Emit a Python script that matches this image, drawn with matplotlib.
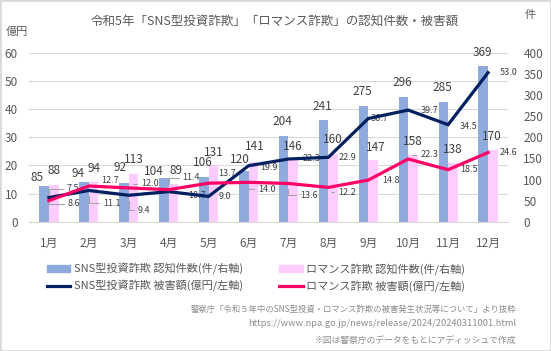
import numpy as np
import matplotlib
matplotlib.use('Agg')
from matplotlib import pyplot as plt
from matplotlib.patches import Patch, Rectangle
from matplotlib.lines import Line2D
from matplotlib.transforms import blended_transform_factory

plt.rcParams['font.family'] = ['Noto Sans CJK JP', 'DejaVu Sans']

months = ['1月', '2月', '3月', '4月', '5月', '6月', '7月', '8月', '9月', '10月', '11月', '12月']
sns_count = [85, 94, 92, 104, 106, 120, 204, 241, 275, 296, 285, 369]
romance_count = [88, 94, 113, 89, 131, 141, 146, 160, 147, 158, 138, 170]
sns_damage = [8.6, 11.1, 9.4, 10.7, 9.0, 19.9, 22.3, 22.9, 36.7, 39.7, 34.5, 53.0]
romance_damage = [7.5, 12.7, 12.0, 11.4, 13.7, 14.0, 13.6, 12.2, 14.8, 22.3, 18.5, 24.6]
left_ticks = [0, 10, 20, 30, 40, 50, 60]
right_ticks = [0, 50, 100, 150, 200, 250, 300, 350, 400]

# label placement (pixel offsets from the mark)
sns_cnt_off = [(-7, 8), (-6, 9), (-4, 15), (-10, 6), (-1, 14), (-4, 12),
               (-1, 14), (-1, 14), (-1, 14), (-1, 14), (-1, 14), (-1, 14)]
rom_cnt_off = [(0, 14), (0, 14), (0, 15), (3, 14), (0, 14), (1, 16),
               (0, 14), (0, 15), (3, 12), (0, 14), (0, 14), (-1, 14)]
sns_off = [(19, -6), (14, -13), (9, -15), (20, -4), (10, 0), (12, -2),
           (14, 0), (10, 0), (2, 0), (12, 0), (12, -2), (12, 0)]
sns_leader = [1, 1, 1, 0, 0, 0, 0, 0, 0, 0, 0, 0]
rom_off = [(18, 12), (12, 5), (12, 4), (14, 12), (10, 10), (10, -7),
           (12, -12), (10, -5), (14, 0), (12, 4), (12, 0), (12, 0)]
rom_leader = [1, 0, 1, 1, 0, 1, 1, 1, 0, 1, 0, 0]

BLUE_BAR = '#8FAADC'
PINK_BAR = '#FFCCFF'
NAVY = '#002060'
PINK = '#FF0066'
TXT = '#595959'
LBL = '#404040'

W, H = 551, 351
fig = plt.figure(figsize=(W / 100, H / 100), dpi=100)
ax2 = fig.add_axes([29 / W, 1 - 221.7 / H, 479 / W, 168.7 / H])
ax = ax2.twinx()
ax.set_zorder(ax2.get_zorder() + 1)
ax.patch.set_visible(False)
# damage axis on the left, count axis on the right
ax.yaxis.tick_left()
ax2.yaxis.tick_right()

x = np.arange(len(months))
ax2.set_xlim(-0.5, len(months) - 0.5)
ax2.set_ylim(0, 400)
ax.set_ylim(0, 60)

# gridlines at the left-axis ticks, kept behind the bars
gtrans = blended_transform_factory(ax2.transAxes, ax.transData)
for v in left_ticks:
    ax2.plot([0, 1], [v, v], transform=gtrans, color='#D9D9D9', lw=0.8, zorder=0)

bw = 0.24
ax2.bar(x - bw / 2, sns_count, bw, color=BLUE_BAR, zorder=2)
ax2.bar(x + bw / 2, romance_count, bw, color=PINK_BAR, zorder=2)
for xs, vals, offs in ((x - bw / 2, sns_count, sns_cnt_off),
                       (x + bw / 2, romance_count, rom_cnt_off)):
    for xi, v, (dx, dy) in zip(xs, vals, offs):
        ax2.annotate(str(v), (xi, v), xytext=(dx, dy), textcoords='offset pixels',
                     ha='center', va='center', fontsize=8.5, color=LBL, zorder=3)

ax.plot(x, sns_damage, color=NAVY, lw=2.3, zorder=5, solid_joinstyle='miter')
ax.plot(x, romance_damage, color=PINK, lw=2.3, zorder=5, solid_joinstyle='miter')

for vals, offs, leaders in ((sns_damage, sns_off, sns_leader),
                            (romance_damage, rom_off, rom_leader)):
    for xi, v, (dx, dy), ld in zip(x, vals, offs, leaders):
        kw = {}
        if ld:
            kw['arrowprops'] = dict(arrowstyle='-', color='#A6A6A6', lw=0.8,
                                    connectionstyle='angle,angleA=0,angleB=90,rad=0',
                                    relpos=(0, 0.5), shrinkA=1, shrinkB=4)
        ax.annotate(f'{v:.1f}', (xi, v), xytext=(dx, dy), textcoords='offset pixels',
                    ha='left', va='center', fontsize=6.5, color=LBL, zorder=4, **kw)

ax2.set_xticks(x)
ax2.set_xticklabels(months)
ax.set_yticks(left_ticks)
ax2.set_yticks(right_ticks)
ax2.tick_params(axis='x', length=0, pad=11, labelsize=8.5, labelcolor=TXT)
ax.tick_params(axis='y', length=0, pad=8, labelsize=8.5, labelcolor=TXT)
ax2.tick_params(axis='y', length=0, pad=11, labelsize=8.5, labelcolor=TXT)
for a in (ax, ax2):
    for s in a.spines.values():
        s.set_visible(False)
ax2.spines['bottom'].set_visible(True)
ax2.spines['bottom'].set_color('#D9D9D9')

fig.text(275 / W, 1 - 22 / H, '令和5年「SNS型投資詐欺」「ロマンス詐欺」の認知件数・被害額',
         ha='center', va='center', fontsize=9, color=TXT)
fig.text(17 / W, 1 - 32 / H, '億円', ha='center', va='center', fontsize=8, color=TXT)
fig.text(530 / W, 1 - 15 / H, '件', ha='center', va='center', fontsize=8, color=TXT)

handles = [Patch(color=BLUE_BAR), Line2D([], [], color=NAVY, lw=2.3),
           Patch(color=PINK_BAR), Line2D([], [], color=PINK, lw=2.3)]
labels = ['SNS型投資詐欺 認知件数(件/右軸)', 'SNS型投資詐欺 被害額(億円/左軸)',
          'ロマンス詐欺 認知件数(件/右軸)', 'ロマンス詐欺 被害額(億円/左軸)']
fig.legend(handles, labels, ncol=2, loc='center', bbox_to_anchor=(256 / W, 1 - 277.5 / H),
           frameon=False, fontsize=8, handlelength=2.1, handleheight=0.6,
           handletextpad=0.3, columnspacing=3.3, labelspacing=0.45,
           borderpad=0, labelcolor=TXT)

src = ['警察庁「令和５年中のSNS型投資・ロマンス詐欺の被害発生状況等について」より抜粋',
       'https://www.npa.go.jp/news/release/2024/20240311001.html',
       '※図は警察庁のデータをもとにアディッシュで作成']
for s, yy, fs in zip(src, (309, 324, 340), (6.0, 6.7, 6.3)):
    fig.text(516 / W, 1 - yy / H, s, ha='right', va='center', fontsize=fs, color='#8C8C8C')

fig.patches.append(Rectangle((0, 0), 1, 1, transform=fig.transFigure, fill=False,
                             edgecolor='#D9D9D9', lw=2))

fig.savefig('out.png', dpi=100)
